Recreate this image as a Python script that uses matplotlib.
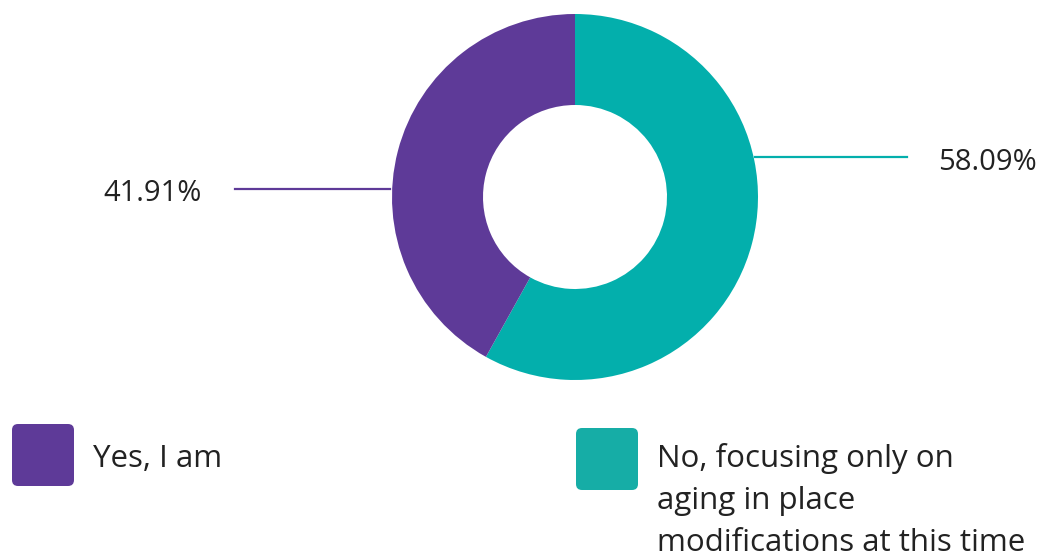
import matplotlib.pyplot as plt
from matplotlib.patches import FancyBboxPatch

plt.rcParams['font.family'] = ['Open Sans', 'DejaVu Sans']

labels = ["No, focusing only on\naging in place\nmodifications at this time", "Yes, I am"]
values = [58.09, 41.91]
colors = ["#03AFAC", "#5E3A98"]
legend_colors = ["#16ADA6", "#5E3A98"]

W, H = 1048, 556
fig = plt.figure(figsize=(W / 100, H / 100), dpi=100)
ax = fig.add_axes([0, 0, 1, 1])

cx, cy = 575, H - 197
r = 183
ax.pie(values, colors=colors, startangle=90, counterclock=False,
       center=(cx, cy), radius=r, wedgeprops=dict(width=91, linewidth=0),
       frame=True)
ax.set_xlim(0, W)
ax.set_ylim(0, H)
ax.set_aspect('equal')
ax.axis('off')

# leader lines + value labels
ax.plot([755, 907], [H - 157, H - 157], color=colors[0], lw=1.6)
ax.text(938, H - 170, f"{values[0]:.2f}%", fontsize=21, color="#222222",
        va='baseline', ha='left')
ax.plot([390, 235], [H - 189, H - 189], color=colors[1], lw=1.6)
ax.text(202, H - 201, f"{values[1]:.2f}%", fontsize=21, color="#222222",
        va='baseline', ha='right')

# legend
for (x0, y0), lab, c in zip([(576, 428), (12, 424)], labels, legend_colors):
    box = FancyBboxPatch((x0 + 6, H - y0 - 62 + 6), 50, 50,
                         boxstyle="round,pad=6", fc=c, ec='none')
    ax.add_patch(box)
    for i, line in enumerate(lab.split("\n")):
        ax.text(x0 + 81, H - 467 - 42 * i, line, fontsize=22.5, color="#222222",
                va='baseline', ha='left')

fig.savefig("out.png", dpi=100)
